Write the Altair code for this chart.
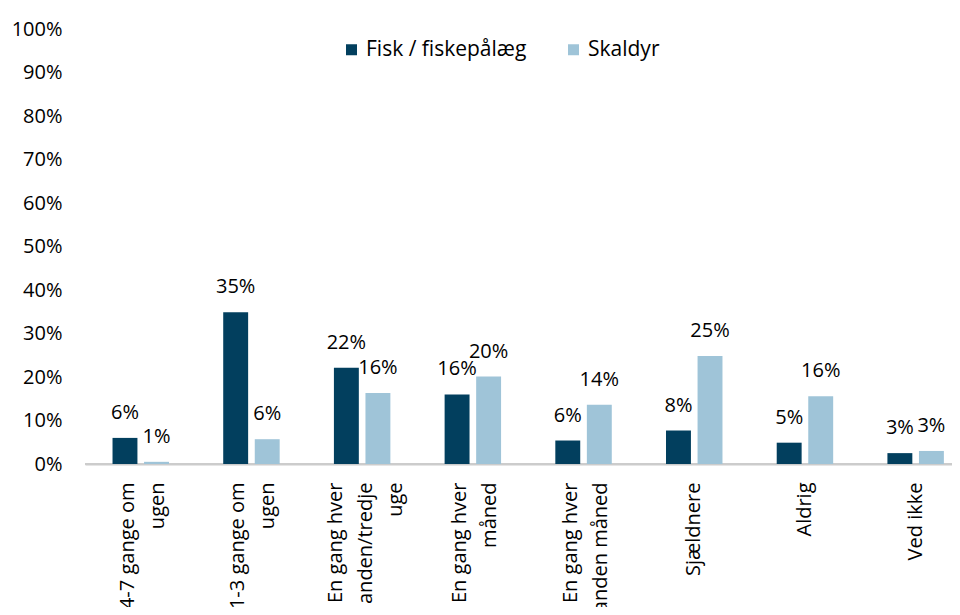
import altair as alt
import pandas as pd

categories = [
    "4-7 gange om|ugen",
    "1-3 gange om|ugen",
    "En gang hver|anden/tredje|uge",
    "En gang hver|måned",
    "En gang hver|anden måned",
    "Sjældnere",
    "Aldrig",
    "Ved ikke",
]
series = ["Fisk / fiskepålæg", "Skaldyr"]
fisk_values = [6.0, 34.9, 22.1, 16.0, 5.4, 7.7, 4.9, 2.5]
skaldyr_values = [0.5, 5.7, 16.3, 20.1, 13.6, 24.8, 15.6, 3.0]
fisk_labels = ["6%", "35%", "22%", "16%", "6%", "8%", "5%", "3%"]
skaldyr_labels = ["1%", "6%", "16%", "20%", "14%", "25%", "16%", "3%"]
colors = ["#023F5E", "#9FC4D8"]
y_ticks = [0, 10, 20, 30, 40, 50, 60, 70, 80, 90, 100]
baseline_value = [0]

rows = []
for c, v, l in zip(categories, fisk_values, fisk_labels):
    rows.append({"cat": c, "series": series[0], "value": v, "label": l})
for c, v, l in zip(categories, skaldyr_values, skaldyr_labels):
    rows.append({"cat": c, "series": series[1], "value": v, "label": l})
df = pd.DataFrame(rows)
base_df = pd.DataFrame({"value": baseline_value})

FONT = "Open Sans"

label_offset = {
    "condition": [
        {"test": "length(split(datum.value, '|')) == 3", "value": -26},
        {"test": "length(split(datum.value, '|')) == 2", "value": -13},
    ],
    "value": 0,
}

x_enc = alt.X(
    "cat:N",
    sort=categories,
    title=None,
    scale=alt.Scale(paddingInner=0.49, paddingOuter=0.161, align=0.772),
    axis=alt.Axis(
        labelAngle=-90,
        labelAlign="right",
        labelBaseline="middle",
        labelExpr="split(datum.label, '|')",
        labelFont=FONT,
        labelFontSize=20,
        labelColor="#000000",
        labelLineHeight=30,
        labelPadding=18,
        labelOffset=label_offset,
        ticks=False,
        domain=True,
        domainColor="#CCCCCC",
        domainWidth=2,
        domainOpacity=1,
        grid=False,
    ),
)
xo_enc = alt.XOffset("series:N", sort=series, scale=alt.Scale(paddingInner=0.21))
y_enc = alt.Y(
    "value:Q",
    title=None,
    scale=alt.Scale(domain=[0, 100], nice=False),
    axis=alt.Axis(
        values=y_ticks,
        labelExpr="datum.value + '%'",
        labelFont=FONT,
        labelFontSize=20,
        labelColor="#000000",
        labelPadding=23,
        ticks=False,
        domain=False,
        grid=False,
    ),
)

baseline = alt.Chart(base_df).mark_rule(color="#CCCCCC", strokeWidth=2).encode(y=y_enc)

base = alt.Chart(df).encode(x=x_enc, xOffset=xo_enc, y=y_enc)
bars = base.mark_bar().encode(
    color=alt.Color(
        "series:N",
        sort=series,
        scale=alt.Scale(domain=series, range=colors),
        legend=alt.Legend(
            title=None,
            orient="none",
            direction="horizontal",
            legendX=256,
            legendY=10,
            symbolType="square",
            symbolSize=121,
            symbolStrokeWidth=0,
            labelFont=FONT,
            labelFontSize=21,
            labelColor="#000000",
            labelLimit=400,
            labelOffset=4,
            columnPadding=36,
            padding=0,
        ),
    ),
)
texts = base.mark_text(dy=-25, baseline="middle", font=FONT, fontSize=20, color="#000000").encode(
    text="label:N",
)

chart = (
    alt.layer(baseline, bars, texts)
    .properties(
        width=867,
        height=435,
        background="#FFFFFF",
        autosize=alt.AutoSizeParams(type="none"),
        padding={"left": 77, "top": 21, "right": 0, "bottom": 143},
    )
    .configure_view(strokeWidth=0, stroke=None)
    .configure_axisY(domain=False, ticks=False, grid=False)
)

chart.save("out.html", embed_options={"renderer": "svg", "actions": False})
